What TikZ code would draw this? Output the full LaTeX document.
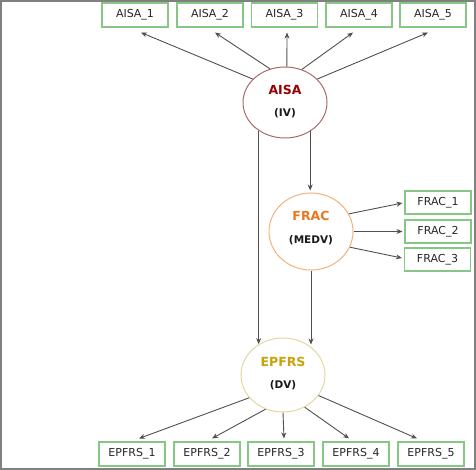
\documentclass[tikz,border=0pt]{standalone}
\usepackage{fontspec}
\setmainfont{DejaVu Sans}
\usetikzlibrary{shapes.geometric,arrows.meta,calc}
\definecolor{boxgreen}{HTML}{86C786}
\definecolor{aisared}{HTML}{990000}
\definecolor{aisaring}{HTML}{A86A6A}
\definecolor{fracor}{HTML}{E8781E}
\definecolor{fracring}{HTML}{F2B27E}
\definecolor{epgold}{HTML}{C9A20A}
\definecolor{epring}{HTML}{E3D7A0}
\definecolor{arrowgray}{HTML}{505050}
\begin{document}
\begin{tikzpicture}[x=1pt,y=-1pt,
  ind/.style={draw=boxgreen,line width=1.1pt,minimum width=66pt,minimum height=24pt,inner sep=0pt,font=\fontsize{11}{13}\selectfont,text=black!85},
  latent/.style={ellipse,draw,line width=1pt,minimum width=84pt,inner sep=0pt,align=center},
  arr/.style={draw=arrowgray,line width=0.9pt,-{Stealth[length=6pt,width=5pt]}},
  lvname/.style={font=\fontsize{12.5}{14}\selectfont\bfseries},
  lvrole/.style={font=\fontsize{10.5}{12}\selectfont\bfseries,text=black!90},
]
\useasboundingbox (0,0) rectangle (476,470);
\draw[line width=2pt,draw=black!50] (1,1) rectangle (475,469);

% AISA indicators
\node[ind] (a1) at (135,15) {AISA\_1};
\node[ind] (a2) at (210,15) {AISA\_2};
\node[ind] (a3) at (284.5,15) {AISA\_3};
\node[ind] (a4) at (359,15) {AISA\_4};
\node[ind] (a5) at (433,15) {AISA\_5};

% latent variables
\node[latent,draw=aisaring,minimum height=71pt] (aisa) at (285,102.5) {};
\node[lvname,text=aisared] (aisat) at (285,90) {AISA};
\node[lvrole] (aisas) at (285,113) {(IV)};

\node[latent,draw=fracring,minimum height=77pt] (frac) at (311,231.5) {};
\node[lvname,text=fracor] (fract) at (311,216) {FRAC};
\node[lvrole] (fracs) at (311,240) {(MEDV)};

\node[latent,draw=epring,minimum height=74pt] (ep) at (283,375) {};
\node[lvname,text=epgold] (ept) at (283,362) {EPFRS};
\node[lvrole] (eps) at (283,385) {(DV)};

% FRAC indicators
\node[ind,minimum height=23pt] (f1) at (438,202.5) {FRAC\_1};
\node[ind,minimum height=23pt] (f2) at (438,231.5) {FRAC\_2};
\node[ind,minimum height=23pt] (f3) at (437.5,259.5) {FRAC\_3};

% EPFRS indicators
\node[ind] (e1) at (132,454) {EPFRS\_1};
\node[ind] (e2) at (207,454) {EPFRS\_2};
\node[ind] (e3) at (281,454) {EPFRS\_3};
\node[ind] (e4) at (356,454) {EPFRS\_4};
\node[ind] (e5) at (431,454) {EPFRS\_5};

% AISA -> indicators
\draw[arr] (aisa.144) -- ($(a1.south)+(6,5)$);
\draw[arr] (aisa.114) -- ($(a2.south)+(5,5)$);
\draw[arr] (aisa.87) -- ($(a3.south)+(2.5,5)$);
\draw[arr] (aisa.63) -- ($(a4.south)+(-6,5)$);
\draw[arr] (aisa.36) -- ($(a5.south)+(-5,5)$);

% FRAC -> indicators
\draw[arr] (frac.25) -- ($(f1.west)+(-2,0.5)$);
\draw[arr] (frac.0) -- ($(f2.west)+(-2,0)$);
\draw[arr] (frac.338) -- ($(f3.west)+(-2,-1.5)$);

% EPFRS -> indicators
\draw[arr] (ep.214) -- ($(e1.north)+(7,-3)$);
\draw[arr] (ep.243) -- ($(e2.north)+(5,-3)$);
\draw[arr] (ep.270) -- ($(e3.north)+(3,-3)$);
\draw[arr] (ep.304) -- ($(e4.north)+(-7,-3)$);
\draw[arr] (ep.330) -- ($(e5.north)+(-14,-3)$);

% structural paths
\draw[arr] (aisa.227) -- (aisa.227 |- ep.128);
\draw[arr,shorten >=2pt] (aisa.311) -- (aisa.311 |- frac.north);
\draw[arr,shorten >=2pt] (frac.south) -- (frac.south |- ep.46);
\end{tikzpicture}
\end{document}
